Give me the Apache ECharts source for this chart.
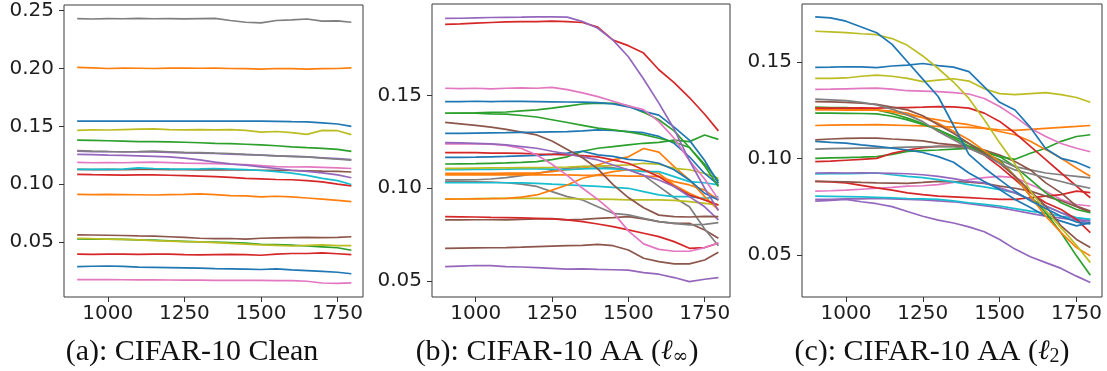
<!DOCTYPE html>
<html>
<head>
<meta charset="utf-8">
<script src="https://cdn.jsdelivr.net/npm/echarts@6/dist/echarts.min.js"></script>
<style>
html,body{margin:0;padding:0;background:#fff;}
#chart{width:1107px;height:371px;}
</style>
</head>
<body>
<div id="chart"></div>
<script>
// ---------- shared x positions (iterations) ----------
const X = [900,950,1000,1050,1100,1150,1200,1250,1300,1350,1400,1450,1500,1550,1600,1650,1700,1750,1795];
const xTicks = [1000,1250,1500,1750];
const yTicksA = [0.05,0.10,0.15,0.20,0.25];
const yTicksB = [0.05,0.10,0.15];
const yTicksC = [0.05,0.10,0.15];
const titles = ['(a): CIFAR-10 Clean','(b): CIFAR-10 AA (','(c): CIFAR-10 AA ('];

// ---------- (a) CIFAR-10 Clean ----------
const a_gray1   = [0.2431,0.2428,0.2432,0.2430,0.2433,0.2430,0.2432,0.2429,0.2431,0.2433,0.2415,0.2400,0.2395,0.2415,0.2420,0.2428,0.2410,0.2412,0.2400];
const a_orange1 = [0.2010,0.2005,0.2000,0.2003,0.2002,0.2000,0.2004,0.2003,0.2002,0.2003,0.2000,0.1998,0.1995,0.2000,0.1998,0.1995,0.1998,0.2000,0.2005];
const a_blue1   = [0.1545,0.1545,0.1544,0.1546,0.1545,0.1545,0.1544,0.1545,0.1546,0.1545,0.1545,0.1545,0.1544,0.1543,0.1540,0.1538,0.1530,0.1520,0.1500];
const a_olive1  = [0.1465,0.1470,0.1468,0.1472,0.1475,0.1478,0.1472,0.1470,0.1472,0.1470,0.1472,0.1465,0.1450,0.1455,0.1445,0.1430,0.1465,0.1462,0.1428];
const a_green1  = [0.1380,0.1378,0.1375,0.1372,0.1368,0.1368,0.1365,0.1362,0.1358,0.1352,0.1350,0.1345,0.1340,0.1332,0.1322,0.1315,0.1310,0.1300,0.1284];
const a_gray2   = [0.1289,0.1285,0.1282,0.1280,0.1282,0.1285,0.1280,0.1275,0.1272,0.1268,0.1265,0.1258,0.1252,0.1245,0.1240,0.1235,0.1225,0.1215,0.1208];
const a_purple1 = [0.1285,0.1280,0.1282,0.1278,0.1280,0.1278,0.1275,0.1270,0.1268,0.1265,0.1260,0.1255,0.1250,0.1245,0.1240,0.1235,0.1228,0.1220,0.1212];
const a_purple2 = [0.1257,0.1255,0.1250,0.1248,0.1245,0.1240,0.1235,0.1225,0.1210,0.1190,0.1175,0.1165,0.1150,0.1135,0.1120,0.1110,0.1098,0.1080,0.1055];
const a_pink1   = [0.1188,0.1185,0.1187,0.1185,0.1188,0.1190,0.1186,0.1182,0.1180,0.1178,0.1172,0.1168,0.1160,0.1152,0.1148,0.1150,0.1145,0.1140,0.1135];
const a_brown1  = [0.1127,0.1125,0.1127,0.1126,0.1128,0.1127,0.1125,0.1126,0.1124,0.1125,0.1122,0.1122,0.1120,0.1120,0.1118,0.1115,0.1112,0.1110,0.1105];
const a_cyan1   = [0.1127,0.1128,0.1127,0.1130,0.1140,0.1135,0.1132,0.1130,0.1132,0.1135,0.1130,0.1125,0.1118,0.1108,0.1095,0.1075,0.1050,0.1030,0.0997];
const a_red1    = [0.1085,0.1082,0.1080,0.1078,0.1080,0.1080,0.1077,0.1074,0.1070,0.1065,0.1058,0.1050,0.1045,0.1040,0.1038,0.1030,0.1020,0.1000,0.0985];
const a_orange2 = [0.0912,0.0910,0.0912,0.0910,0.0908,0.0906,0.0910,0.0912,0.0915,0.0910,0.0900,0.0898,0.0890,0.0895,0.0890,0.0880,0.0870,0.0860,0.0848];
const a_brown2  = [0.0561,0.0560,0.0558,0.0556,0.0552,0.0550,0.0545,0.0540,0.0532,0.0528,0.0530,0.0525,0.0532,0.0535,0.0538,0.0540,0.0537,0.0540,0.0545];
const a_olive2  = [0.0532,0.0528,0.0525,0.0522,0.0518,0.0512,0.0508,0.0502,0.0500,0.0495,0.0488,0.0482,0.0475,0.0470,0.0465,0.0470,0.0475,0.0468,0.0468];
const a_green2  = [0.0526,0.0525,0.0524,0.0522,0.0518,0.0515,0.0510,0.0505,0.0500,0.0498,0.0495,0.0490,0.0480,0.0478,0.0472,0.0465,0.0458,0.0450,0.0428];
const a_red2    = [0.0395,0.0393,0.0395,0.0394,0.0392,0.0395,0.0394,0.0390,0.0388,0.0390,0.0392,0.0390,0.0385,0.0395,0.0400,0.0400,0.0405,0.0398,0.0390];
const a_blue2   = [0.0287,0.0290,0.0292,0.0288,0.0282,0.0280,0.0278,0.0276,0.0273,0.0270,0.0268,0.0265,0.0262,0.0268,0.0258,0.0252,0.0246,0.0238,0.0225];
const a_pink2   = [0.0175,0.0174,0.0175,0.0173,0.0172,0.0172,0.0171,0.0170,0.0170,0.0168,0.0168,0.0167,0.0167,0.0166,0.0166,0.0160,0.0145,0.0142,0.0147];

// ---------- (b) CIFAR-10 AA (l_inf) ----------
const b_purple1 = [0.1917,0.1918,0.1920,0.1922,0.1923,0.1924,0.1926,0.1925,0.1924,0.1900,0.1864,0.1800,0.1710,0.1590,0.1460,0.1320,0.1150,0.1000,0.0880];
const b_red1    = [0.1885,0.1888,0.1892,0.1895,0.1898,0.1900,0.1900,0.1902,0.1900,0.1895,0.1870,0.1800,0.1770,0.1730,0.1640,0.1570,0.1490,0.1400,0.1310];
const b_pink1   = [0.1540,0.1538,0.1540,0.1537,0.1540,0.1542,0.1540,0.1545,0.1533,0.1515,0.1495,0.1470,0.1445,0.1425,0.1360,0.1270,0.1150,0.1050,0.0940];
const b_blue1   = [0.1468,0.1468,0.1470,0.1468,0.1470,0.1469,0.1468,0.1467,0.1466,0.1465,0.1462,0.1455,0.1440,0.1415,0.1395,0.1330,0.1260,0.1150,0.1027];
const b_green1  = [0.1405,0.1406,0.1407,0.1410,0.1412,0.1418,0.1423,0.1433,0.1444,0.1455,0.1460,0.1458,0.1445,0.1410,0.1370,0.1310,0.1220,0.1120,0.1010];
const b_green2  = [0.1405,0.1405,0.1405,0.1402,0.1400,0.1393,0.1385,0.1370,0.1355,0.1340,0.1325,0.1315,0.1305,0.1290,0.1270,0.1250,0.1220,0.1130,0.1040];
const b_blue2   = [0.1297,0.1297,0.1298,0.1299,0.1300,0.1302,0.1303,0.1305,0.1306,0.1310,0.1315,0.1312,0.1306,0.1300,0.1280,0.1243,0.1170,0.1080,0.1018];
const b_brown1  = [0.1356,0.1348,0.1340,0.1330,0.1318,0.1303,0.1288,0.1255,0.1210,0.1165,0.1105,0.1020,0.0950,0.0895,0.0855,0.0847,0.0845,0.0848,0.0847];
const b_purple2 = [0.1246,0.1245,0.1243,0.1240,0.1234,0.1225,0.1216,0.1200,0.1185,0.1170,0.1153,0.1126,0.1100,0.1070,0.1045,0.1010,0.0955,0.0900,0.0830];
const b_pink2   = [0.1240,0.1240,0.1240,0.1238,0.1232,0.1215,0.1180,0.1130,0.1070,0.1000,0.0940,0.0870,0.0770,0.0700,0.0670,0.0660,0.0660,0.0680,0.0705];
const b_red2    = [0.1193,0.1193,0.1192,0.1190,0.1190,0.1188,0.1185,0.1183,0.1180,0.1176,0.1170,0.1153,0.1135,0.1100,0.1063,0.1010,0.0964,0.0937,0.0910];
const b_blue3   = [0.1167,0.1167,0.1168,0.1170,0.1172,0.1175,0.1178,0.1183,0.1190,0.1200,0.1180,0.1172,0.1156,0.1150,0.1135,0.1100,0.1045,0.0973,0.0937];
const b_green3  = [0.1131,0.1132,0.1133,0.1135,0.1137,0.1140,0.1144,0.1155,0.1170,0.1200,0.1216,0.1225,0.1234,0.1243,0.1248,0.1260,0.1252,0.1288,0.1264];
const b_olive1  = [0.1108,0.1108,0.1109,0.1110,0.1110,0.1111,0.1112,0.1113,0.1115,0.1118,0.1120,0.1123,0.1126,0.1135,0.1130,0.1108,0.1100,0.1080,0.1054];
const b_cyan1   = [0.1100,0.1100,0.1102,0.1102,0.1103,0.1105,0.1105,0.1103,0.1100,0.1105,0.1108,0.1105,0.1100,0.1090,0.1090,0.1063,0.1036,0.1030,0.1018];
const b_orange1 = [0.1080,0.1080,0.1080,0.1081,0.1082,0.1082,0.1082,0.1090,0.1100,0.1108,0.1126,0.1153,0.1170,0.1215,0.1195,0.1117,0.1045,0.0955,0.0883];
const b_orange2 = [0.1072,0.1072,0.1072,0.1072,0.1073,0.1072,0.1072,0.1072,0.1072,0.1070,0.1070,0.1068,0.1066,0.1066,0.1063,0.1036,0.1018,0.0990,0.0937];
const b_orange3 = [0.0941,0.0942,0.0943,0.0944,0.0946,0.0952,0.0964,0.0990,0.1018,0.1054,0.1072,0.1090,0.1100,0.1098,0.1080,0.1018,0.0973,0.0937,0.0910];
const b_olive2  = [0.0941,0.0942,0.0944,0.0945,0.0946,0.0946,0.0946,0.0945,0.0944,0.0942,0.0941,0.0940,0.0937,0.0937,0.0937,0.0935,0.0928,0.0919,0.0910];
const b_cyan2   = [0.1030,0.1030,0.1030,0.1030,0.1030,0.1029,0.1027,0.1022,0.1018,0.1014,0.1010,0.1005,0.1000,0.0982,0.0964,0.0955,0.0955,0.0946,0.0955];
const b_gray1   = [0.1045,0.1045,0.1046,0.1050,0.1058,0.1068,0.1080,0.1095,0.1108,0.1117,0.1118,0.1110,0.1100,0.1070,0.1010,0.0950,0.0900,0.0780,0.0690];
const b_gray2   = [0.1036,0.1036,0.1035,0.1034,0.1030,0.1022,0.1010,0.0982,0.0955,0.0937,0.0900,0.0865,0.0856,0.0838,0.0820,0.0811,0.0802,0.0805,0.0815];
const b_red3    = [0.0847,0.0846,0.0845,0.0843,0.0842,0.0840,0.0838,0.0835,0.0829,0.0820,0.0807,0.0793,0.0775,0.0757,0.0739,0.0712,0.0676,0.0680,0.0703];
const b_brown2  = [0.0829,0.0829,0.0830,0.0830,0.0829,0.0832,0.0835,0.0836,0.0829,0.0832,0.0838,0.0842,0.0847,0.0835,0.0820,0.0811,0.0811,0.0775,0.0730];
const b_brown3  = [0.0676,0.0677,0.0678,0.0679,0.0680,0.0682,0.0685,0.0688,0.0690,0.0692,0.0697,0.0690,0.0667,0.0622,0.0604,0.0592,0.0592,0.0613,0.0654];
const b_purple3 = [0.0577,0.0580,0.0583,0.0582,0.0577,0.0575,0.0572,0.0568,0.0563,0.0565,0.0562,0.0560,0.0558,0.0545,0.0536,0.0518,0.0496,0.0509,0.0518];

// ---------- (c) CIFAR-10 AA (l_2) ----------
const c_blue1   = [0.1732,0.1727,0.1710,0.1680,0.1650,0.1590,0.1500,0.1410,0.1320,0.1170,0.1020,0.0950,0.0890,0.0830,0.0780,0.0740,0.0700,0.0670,0.0660];
const c_olive1  = [0.1658,0.1655,0.1651,0.1645,0.1640,0.1620,0.1585,0.1530,0.1465,0.1395,0.1310,0.1200,0.1080,0.0970,0.0830,0.0730,0.0640,0.0550,0.0460];
const c_blue2   = [0.1471,0.1472,0.1474,0.1473,0.1470,0.1478,0.1483,0.1491,0.1480,0.1472,0.1449,0.1370,0.1290,0.1250,0.1160,0.1050,0.1000,0.0980,0.0950];
const c_olive2  = [0.1414,0.1414,0.1416,0.1425,0.1431,0.1425,0.1414,0.1397,0.1405,0.1412,0.1400,0.1360,0.1335,0.1330,0.1335,0.1340,0.1330,0.1315,0.1290];
const c_pink1   = [0.1357,0.1358,0.1360,0.1362,0.1363,0.1358,0.1350,0.1348,0.1345,0.1340,0.1333,0.1310,0.1268,0.1216,0.1156,0.1113,0.1077,0.1052,0.1034];
const c_gray1   = [0.1306,0.1303,0.1299,0.1290,0.1277,0.1255,0.1225,0.1190,0.1139,0.1096,0.1052,0.1017,0.0974,0.0940,0.0920,0.0900,0.0880,0.0860,0.0845];
const c_brown1  = [0.1294,0.1292,0.1290,0.1285,0.1280,0.1265,0.1251,0.1220,0.1174,0.1130,0.1077,0.1026,0.0974,0.0907,0.0830,0.0753,0.0650,0.0580,0.0538];
const c_red1    = [0.1260,0.1260,0.1260,0.1261,0.1260,0.1262,0.1263,0.1265,0.1268,0.1266,0.1260,0.1234,0.1191,0.1131,0.1062,0.0993,0.0924,0.0856,0.0796];
const c_orange1 = [0.1251,0.1251,0.1250,0.1250,0.1251,0.1240,0.1225,0.1212,0.1199,0.1185,0.1174,0.1156,0.1139,0.1122,0.1088,0.1045,0.1000,0.0950,0.0907];
const c_green1  = [0.1265,0.1263,0.1262,0.1258,0.1251,0.1232,0.1208,0.1180,0.1148,0.1105,0.1062,0.1026,0.0991,0.0907,0.0804,0.0718,0.0615,0.0495,0.0395];
const c_green2  = [0.1234,0.1234,0.1233,0.1232,0.1230,0.1218,0.1199,0.1175,0.1148,0.1113,0.1077,0.1034,0.1009,0.0995,0.1026,0.1052,0.1088,0.1113,0.1122];
const c_orange2 = [0.1170,0.1172,0.1173,0.1173,0.1174,0.1172,0.1170,0.1168,0.1165,0.1162,0.1160,0.1155,0.1148,0.1145,0.1150,0.1155,0.1160,0.1165,0.1170];
const c_brown2  = [0.1096,0.1100,0.1103,0.1105,0.1105,0.1100,0.1096,0.1090,0.1077,0.1070,0.1062,0.1043,0.1017,0.0983,0.0940,0.0873,0.0821,0.0753,0.0727];
const c_blue3   = [0.1088,0.1083,0.1079,0.1070,0.1062,0.1053,0.1043,0.1030,0.1009,0.0980,0.0924,0.0880,0.0838,0.0787,0.0745,0.0700,0.0675,0.0650,0.0667];
const c_gray2   = [0.1048,0.1050,0.1052,0.1053,0.1053,0.1055,0.1058,0.1060,0.1062,0.1060,0.1053,0.1026,0.0991,0.0957,0.0940,0.0924,0.0915,0.0907,0.0899];
const c_red2    = [0.0983,0.0985,0.0990,0.0995,0.1000,0.1026,0.1043,0.1055,0.1062,0.1062,0.1053,0.1017,0.0957,0.0890,0.0821,0.0770,0.0735,0.0684,0.0615];
const c_green3  = [0.1000,0.1002,0.1004,0.1006,0.1009,0.1020,0.1036,0.1040,0.1043,0.1048,0.1052,0.1036,0.1009,0.0957,0.0890,0.0821,0.0770,0.0735,0.0718];
const c_purple1 = [0.0924,0.0925,0.0924,0.0925,0.0924,0.0922,0.0920,0.0915,0.0907,0.0895,0.0881,0.0873,0.0847,0.0821,0.0787,0.0753,0.0718,0.0684,0.0675];
const c_cyan1   = [0.0919,0.0920,0.0921,0.0922,0.0924,0.0915,0.0907,0.0900,0.0890,0.0878,0.0864,0.0852,0.0838,0.0821,0.0787,0.0753,0.0718,0.0693,0.0684];
const c_brown3  = [0.0881,0.0880,0.0878,0.0875,0.0873,0.0872,0.0870,0.0875,0.0881,0.0879,0.0876,0.0870,0.0856,0.0845,0.0830,0.0804,0.0780,0.0750,0.0720];
const c_red3    = [0.0881,0.0878,0.0873,0.0860,0.0847,0.0835,0.0821,0.0812,0.0804,0.0800,0.0796,0.0792,0.0787,0.0787,0.0796,0.0804,0.0812,0.0830,0.0822];
const c_pink2   = [0.0830,0.0832,0.0835,0.0840,0.0845,0.0850,0.0856,0.0858,0.0864,0.0875,0.0890,0.0900,0.0907,0.0900,0.0864,0.0830,0.0787,0.0761,0.0753];
const c_cyan2   = [0.0804,0.0803,0.0802,0.0800,0.0798,0.0795,0.0792,0.0790,0.0787,0.0780,0.0770,0.0762,0.0753,0.0740,0.0727,0.0715,0.0700,0.0690,0.0684];
const c_purple2 = [0.0778,0.0782,0.0787,0.0775,0.0765,0.0750,0.0725,0.0700,0.0680,0.0665,0.0645,0.0620,0.0580,0.0530,0.0490,0.0460,0.0430,0.0390,0.0357];
const c_purple3 = [0.0787,0.0788,0.0790,0.0790,0.0792,0.0790,0.0787,0.0785,0.0780,0.0775,0.0765,0.0755,0.0745,0.0730,0.0715,0.0700,0.0690,0.0680,0.0665];
const c_orange3 = [0.1260,0.1258,0.1256,0.1254,0.1250,0.1245,0.1234,0.1210,0.1182,0.1140,0.1096,0.1040,0.0983,0.0907,0.0804,0.0700,0.0615,0.0538,0.0495];

// ---------- styling (kept apart from data) ----------
const C = {blue:'#1f77b4',orange:'#ff7f0e',green:'#2ca02c',red:'#d62728',purple:'#9467bd',
           brown:'#8c564b',pink:'#e377c2',gray:'#7f7f7f',olive:'#bcbd22',cyan:'#17becf'};

const panelA = [
  [a_blue2,C.blue],[a_pink2,C.pink],[a_red2,C.red],[a_green2,C.green],[a_olive2,C.olive],[a_brown2,C.brown],
  [a_orange2,C.orange],[a_red1,C.red],[a_brown1,C.brown],[a_cyan1,C.cyan],[a_pink1,C.pink],[a_purple2,C.purple],
  [a_purple1,C.purple],[a_gray2,C.gray],[a_green1,C.green],[a_olive1,C.olive],[a_blue1,C.blue],[a_orange1,C.orange],[a_gray1,C.gray]
];
const panelB = [
  [b_purple3,C.purple],[b_brown3,C.brown],[b_brown2,C.brown],[b_red3,C.red],[b_gray2,C.gray],[b_gray1,C.gray],
  [b_cyan2,C.cyan],[b_olive2,C.olive],[b_orange3,C.orange],[b_orange2,C.orange],[b_orange1,C.orange],[b_cyan1,C.cyan],
  [b_olive1,C.olive],[b_green3,C.green],[b_blue3,C.blue],[b_red2,C.red],[b_pink2,C.pink],[b_purple2,C.purple],
  [b_brown1,C.brown],[b_blue2,C.blue],[b_green2,C.green],[b_green1,C.green],[b_blue1,C.blue],[b_pink1,C.pink],
  [b_red1,C.red],[b_purple1,C.purple]
];
const panelC = [
  [c_purple2,C.purple],[c_purple3,C.purple],[c_cyan2,C.cyan],[c_pink2,C.pink],[c_red3,C.red],[c_brown3,C.brown],
  [c_cyan1,C.cyan],[c_purple1,C.purple],[c_green3,C.green],[c_red2,C.red],[c_gray2,C.gray],[c_blue3,C.blue],
  [c_brown2,C.brown],[c_orange2,C.orange],[c_green2,C.green],[c_green1,C.green],[c_orange3,C.orange],[c_orange1,C.orange],
  [c_red1,C.red],[c_brown1,C.brown],[c_gray1,C.gray],[c_pink1,C.pink],[c_olive2,C.olive],[c_blue2,C.blue],
  [c_olive1,C.olive],[c_blue1,C.blue]
];

const grids = [
  {left:64, top:5, width:299, height:292},
  {left:432, top:4, width:298, height:293},
  {left:802, top:4, width:300, height:293}
];
const yRanges = [[0.0024,0.2549],[0.0413,0.1995],[0.0282,0.1799]];
const yTicks = [yTicksA,yTicksB,yTicksC];

const tickColor = '#333';
const labelColor = '#1e1e1e';

const option = {
  animation:false,
  backgroundColor:'#fff',
  grid: grids.map(g=>Object.assign({show:true,borderColor:'#3a3a3a',borderWidth:1,backgroundColor:'transparent',containLabel:false},g)),
  xAxis: grids.map((g,i)=>({
    type:'value', gridIndex:i, min:857, max:1833,
    axisLine:{show:false}, splitLine:{show:false},
    axisTick:{show:true,length:5,customValues:xTicks,lineStyle:{color:tickColor,width:1}},
    axisLabel:{customValues:xTicks,fontSize:20,fontFamily:'DejaVu Sans',color:labelColor,margin:7,
               formatter:v=>String(Math.round(v))}
  })),
  yAxis: grids.map((g,i)=>({
    type:'value', gridIndex:i, min:yRanges[i][0], max:yRanges[i][1],
    axisLine:{show:false}, splitLine:{show:false},
    axisTick:{show:true,length:5,customValues:yTicks[i],lineStyle:{color:tickColor,width:1}},
    axisLabel:{customValues:yTicks[i],fontSize:20,fontFamily:'DejaVu Sans',color:labelColor,margin:10,
               formatter:v=>v.toFixed(2)}
  })),
  series: [],
  graphic: [
    {type:'text', x:192, y:352, style:{text:titles[0], font:'30px "Liberation Serif","DejaVu Serif",serif', fill:'#111', textAlign:'center', textVerticalAlign:'middle'}},
    {type:'text', x:557, y:352, style:{
      text:'{t|'+titles[1]+'}{l|ℓ}{s|∞}{t|)}',
      textAlign:'center', textVerticalAlign:'middle', fill:'#111',
      rich:{t:{font:'30px "Liberation Serif","DejaVu Serif",serif',fill:'#111'},
            l:{font:'italic 28px "DejaVu Serif","Liberation Serif",serif',fill:'#111'},
            s:{font:'19px "DejaVu Serif","Liberation Serif",serif',fill:'#111',verticalAlign:'bottom',padding:[10,0,0,0]}}}},
    {type:'text', x:932, y:352, style:{
      text:'{t|'+titles[2]+'}{l|ℓ}{s|2}{t|)}',
      textAlign:'center', textVerticalAlign:'middle', fill:'#111',
      rich:{t:{font:'30px "Liberation Serif","DejaVu Serif",serif',fill:'#111'},
            l:{font:'italic 28px "DejaVu Serif","Liberation Serif",serif',fill:'#111'},
            s:{font:'20px "Liberation Serif","DejaVu Serif",serif',fill:'#111',verticalAlign:'bottom',padding:[10,0,0,0]}}}}
  ]
};

[panelA,panelB,panelC].forEach((panel,gi)=>{
  panel.forEach(([vals,color])=>{
    option.series.push({
      type:'line', xAxisIndex:gi, yAxisIndex:gi, showSymbol:false, symbol:'none',
      data: X.map((x,k)=>[x, vals[k]]),
      lineStyle:{color:color,width:1.7}, itemStyle:{color:color},
      clip:true, silent:true, z:2
    });
  });
});

const chart = echarts.init(document.getElementById('chart'), null, {renderer:'canvas'});
chart.setOption(option);
</script>
</body>
</html>
